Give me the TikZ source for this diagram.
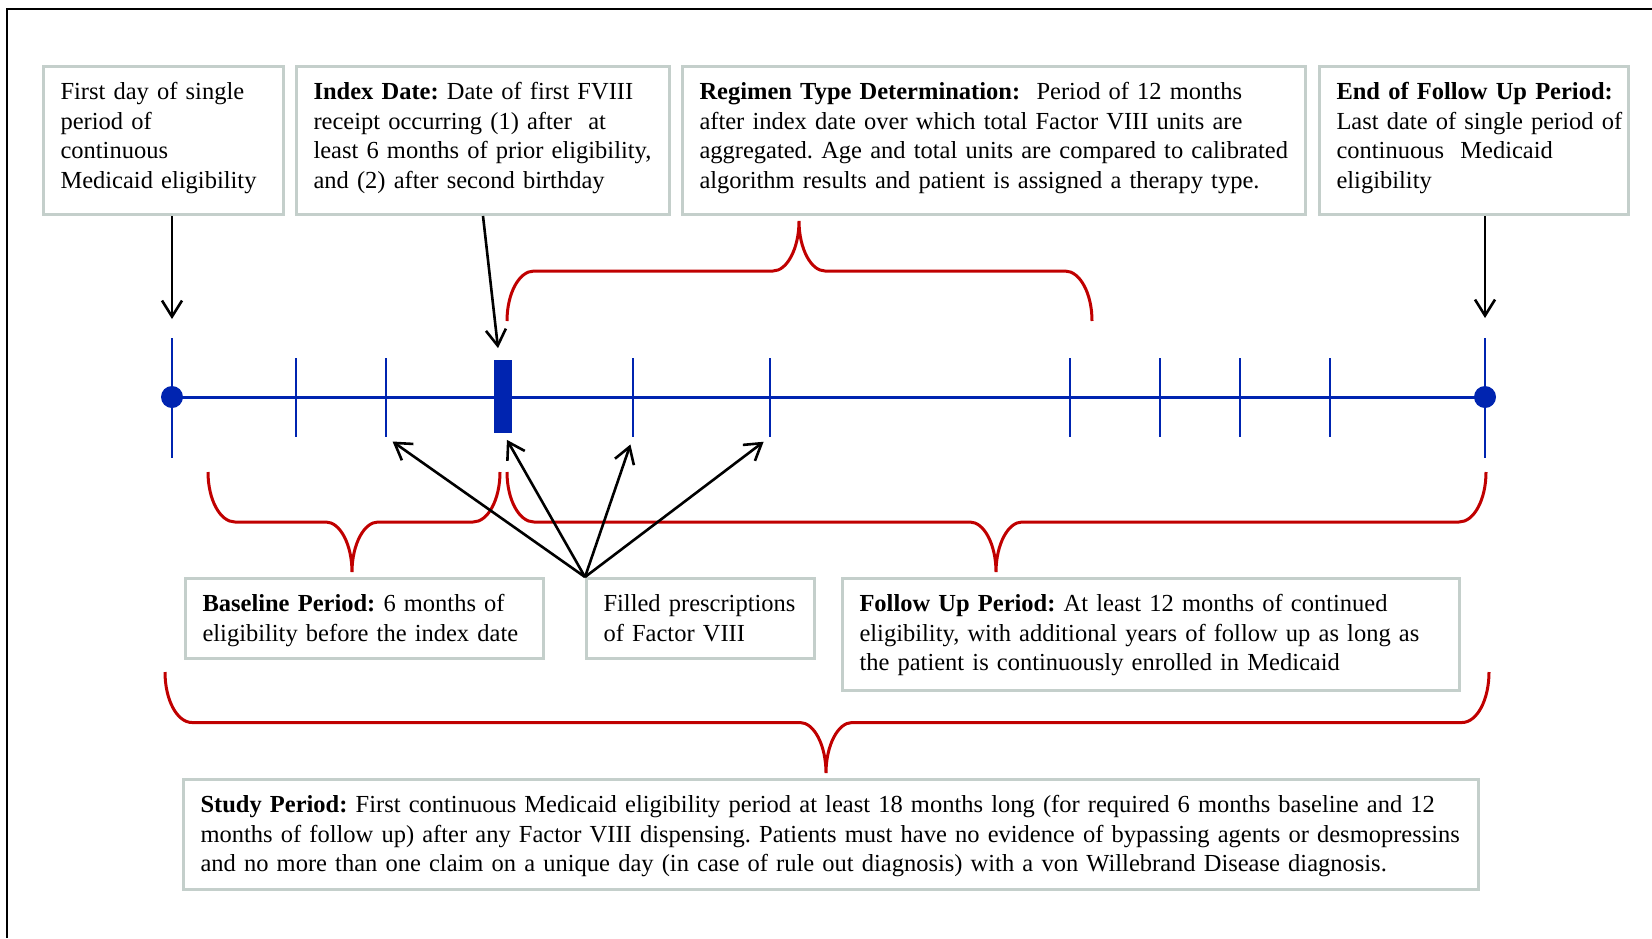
\documentclass[tikz,border=0pt]{standalone}
\usepackage{fontspec}
\setmainfont{Liberation Serif}
\usetikzlibrary{arrows.meta}

\definecolor{boxgray}{RGB}{196,207,203}
\definecolor{tlblue}{RGB}{0,36,176}
\definecolor{bracered}{RGB}{192,0,0}

\tikzset{
  infobox/.style={draw=boxgray, line width=1.5pt, anchor=north west,
    inner xsep=8.5pt, inner ysep=8.5pt, text height=8pt,
    font=\fontsize{12.25}{14.8}\selectfont,
    execute at begin node={\frenchspacing\rightskip=0pt minus 40pt\hyphenpenalty=10000\relax}},
  tickmark/.style={fill=tlblue, inner sep=0pt, minimum width=1.4pt, minimum height=39.5pt},
  pointer/.style={-{Straight Barb[length=8pt,width=10pt]}, line width=1.3pt},
  bracket/.style={bracered, line width=1.5pt},
}

% curly brace: left x, right x, tip x, end y, tip y
\newcommand{\redbrace}[5]{%
  \pgfmathsetmacro{\bmid}{(#4+#5)/2}
  \draw[bracket] (#1,#4)
    .. controls (#1,{#4+0.55*(\bmid-#4)}) and ({#1+12},\bmid) .. ({#1+27},\bmid)
    -- ({#3-26},\bmid)
    .. controls ({#3-12},\bmid) and (#3,{#5+0.55*(\bmid-#5)}) .. (#3,#5)
    .. controls (#3,{#5+0.55*(\bmid-#5)}) and ({#3+12},\bmid) .. ({#3+26},\bmid)
    -- ({#2-27},\bmid)
    .. controls ({#2-12},\bmid) and (#2,{#4+0.55*(\bmid-#4)}) .. (#2,#4);
}

\begin{document}
\begin{tikzpicture}[x=0.5pt, y=-0.5pt]
    \useasboundingbox (0,0) rectangle (1652,938);
    % frame
    \draw[line width=1pt] (1652,9) -- (7,9) -- (7,938);

    % top boxes
    \node[infobox, text width=103pt, text depth=49pt] (first) at (42,65)
        {First day of single\\ period of\\ continuous\\ Medicaid eligibility};
    \node[infobox, text width=169.5pt, text depth=49pt] (index) at (295,65)
        {\textbf{Index Date:} Date of first FVIII\\ receipt occurring (1) after\ \ at\\
         least 6 months of prior eligibility,\\ and (2) after second birthday};
    \node[infobox, text width=294.5pt, text depth=49pt] (regimen) at (681,65)
        {\textbf{Regimen Type Determination:}\ \ Period of 12 months\\
         after index date over which total Factor VIII units are\\
         aggregated. Age and total units are compared to calibrated\\
         algorithm results and patient is assigned a therapy type.};
    \node[infobox, text width=137.5pt, text depth=49pt] (endfu) at (1318,65)
        {\textbf{End of Follow Up Period:}\\ Last date of single period of\\
         continuous\ \ Medicaid\\ eligibility};

    % timeline
    \coordinate (t0) at (172,397);
    \coordinate (t1) at (1485,397);
    \foreach \x [count=\i] in {296,386,633,770,1070,1160,1240,1330}
        \node[tickmark] (tk\i) at (\x,397) {};
    \node[tickmark, minimum height=60pt] (tka) at (172,398) {};
    \node[tickmark, minimum height=60pt] (tkb) at (1485,398) {};
    \draw[tlblue, line width=1.5pt] (t0) -- (t1);
    \fill[tlblue] (t0) circle (5.5pt);
    \fill[tlblue] (t1) circle (5.5pt);
    \node[fill=tlblue, inner sep=0pt, minimum width=9pt, minimum height=36.5pt] (idx) at (503,396) {};

    % arrows to the timeline
    \draw[pointer] (first.south -| t0) -- ([yshift=39pt]t0);
    \draw[pointer] (index.south) -- ([xshift=-2.5pt, yshift=5.5pt]idx.north);
    \draw[pointer] (endfu.south -| t1) -- ([yshift=39.5pt]t1);

    % braces
    \redbrace{507}{1092}{799}{321}{221}
    \redbrace{208}{500}{352}{472}{572}
    \redbrace{507}{1486}{996}{472}{572}
    \redbrace{165}{1489}{826}{672}{773}

    % bottom boxes
    \node[infobox, text width=162pt, text depth=15pt] (baseline) at (184,577)
        {\textbf{Baseline Period:} 6 months of\\ eligibility before the index date};
    \node[infobox, text width=97pt, text depth=15pt] (filled) at (585,577)
        {Filled prescriptions\\ of Factor VIII};
    \node[infobox, text width=291.5pt, text depth=31pt] (followup) at (841,577)
        {\textbf{Follow Up Period:} At least 12 months of continued\\
         eligibility, with additional years of follow up as long as\\
         the patient is continuously enrolled in Medicaid};
    \node[infobox, text width=630.5pt, text depth=30pt] (study) at (182,778)
        {\textbf{Study Period:} First continuous Medicaid eligibility period at least 18 months long (for required 6 months baseline and 12\\
         months of follow up) after any Factor VIII dispensing. Patients must have no evidence of bypassing agents or desmopressins\\
         and no more than one claim on a unique day (in case of rule out diagnosis) with a von Willebrand Disease diagnosis.};

    % prescriptions
    \draw[pointer, shorten >=4pt] (filled.north west) -- (tk2.south);
    \draw[pointer, shorten >=4pt] (filled.north west) -- (idx.south);
    \draw[pointer, shorten >=4pt] (filled.north west) -- (tk3.south);
    \draw[pointer, shorten >=4pt] (filled.north west) -- (tk4.south);
\end{tikzpicture}
\end{document}
